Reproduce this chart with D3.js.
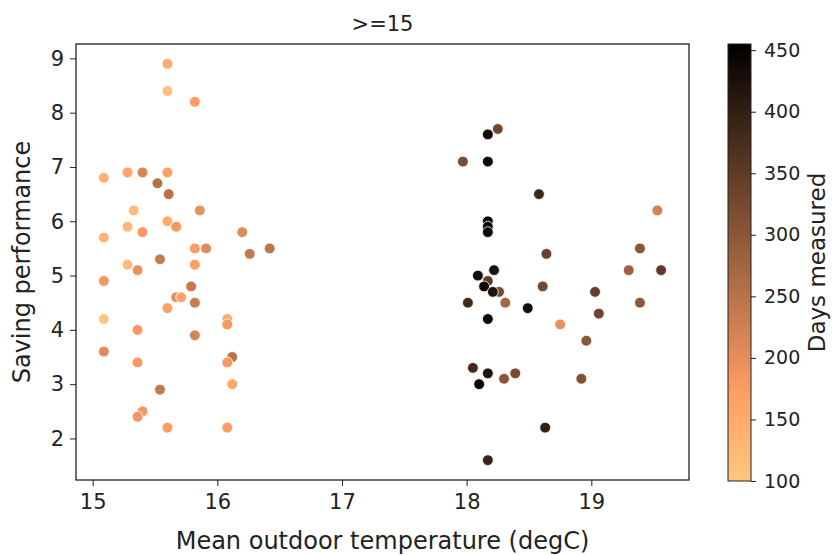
<!DOCTYPE html>
<html>
<head>
<meta charset="utf-8">
<script src="https://cdn.jsdelivr.net/npm/d3@7"></script>
<style>
  body { margin: 0; background: #fff; }
  svg text { font-family: "DejaVu Sans", sans-serif; fill: #222; }
</style>
</head>
<body>
<svg id="chart" width="832" height="555"></svg>
<script>
// Mean outdoor temperature (degC)
const temps = [
  15.60, 15.60, 15.82, 15.09, 15.28, 15.40, 15.60, 15.52, 15.61, 15.33,
  15.86, 15.60, 15.67, 15.28, 15.40, 15.09, 16.20, 15.82, 15.91, 16.42,
  16.26, 15.54, 15.82, 15.28, 15.36, 15.09, 15.79, 15.67, 15.71, 15.82,
  15.60, 15.09, 16.08, 16.08, 15.36, 15.82, 15.09, 16.12, 16.08, 15.36,
  16.12, 15.54, 15.40, 15.36, 15.60, 16.08,
  18.25, 18.17, 17.97, 18.17, 18.58, 18.17, 18.17, 18.17, 18.64, 18.22,
  18.09, 18.17, 18.14, 18.61, 19.03, 18.26, 18.21, 18.01, 18.31, 19.39,
  18.49, 19.06, 18.17, 18.75, 18.96, 18.05, 18.17, 18.39, 18.30, 18.92,
  18.10, 18.63, 18.17, 19.53, 19.39, 19.30, 19.56
];

// Saving performance
const savings = [
  8.9, 8.4, 8.2, 6.8, 6.9, 6.9, 6.9, 6.7, 6.5, 6.2,
  6.2, 6.0, 5.9, 5.9, 5.8, 5.7, 5.8, 5.5, 5.5, 5.5,
  5.4, 5.3, 5.2, 5.2, 5.1, 4.9, 4.8, 4.6, 4.6, 4.5,
  4.4, 4.2, 4.2, 4.1, 4.0, 3.9, 3.6, 3.5, 3.4, 3.4,
  3.0, 2.9, 2.5, 2.4, 2.2, 2.2,
  7.7, 7.6, 7.1, 7.1, 6.5, 6.0, 5.9, 5.8, 5.4, 5.1,
  5.0, 4.9, 4.8, 4.8, 4.7, 4.7, 4.7, 4.5, 4.5, 4.5,
  4.4, 4.3, 4.2, 4.1, 3.8, 3.3, 3.2, 3.2, 3.1, 3.1,
  3.0, 2.2, 1.6, 6.2, 5.5, 5.1, 5.1
];

// Days measured (colour)
const days = [
  150, 115, 175, 140, 165, 215, 170, 250, 250, 120,
  195, 145, 185, 125, 180, 135, 205, 175, 205, 245,
  240, 235, 170, 120, 195, 185, 235, 200, 165, 230,
  170, 100, 150, 185, 180, 220, 205, 250, 180, 180,
  160, 240, 185, 185, 175, 175,
  330, 440, 320, 445, 385, 440, 445, 440, 340, 420,
  430, 350, 440, 325, 345, 320, 420, 380, 270, 300,
  430, 335, 440, 195, 300, 380, 420, 320, 300, 310,
  455, 400, 390, 220, 300, 280, 350
];

const xTicks = [15, 16, 17, 18, 19];
const yTicks = [2, 3, 4, 5, 6, 7, 8, 9];
const cbTicks = [100, 150, 200, 250, 300, 350, 400, 450];

const points = temps.map((t, i) => ({ t, s: savings[i], d: days[i] }));

const plot = { left: 76, right: 689, top: 44, bottom: 480 };
const cb = { left: 728, right: 751, top: 44, bottom: 481 };

// matplotlib style 5% margins
const pad = ([a, b]) => [a - (b - a) * 0.05, b + (b - a) * 0.05];

const x = d3.scaleLinear().domain(pad(d3.extent(temps))).range([plot.left, plot.right]);
const y = d3.scaleLinear().domain(pad(d3.extent(savings))).range([plot.bottom, plot.top]);

// copper_r colormap
const copperR = t => {
  const u = 1 - t;
  const r = Math.min(1, 1.25 * u), g = 0.7812 * u, b = 0.4975 * u;
  return d3.rgb(r * 255, g * 255, b * 255).formatHex();
};
const dayExtent = d3.extent(days);
const color = d3.scaleSequential(copperR).domain(dayExtent);

const svg = d3.select('#chart');

// points
svg.append('g')
  .selectAll('circle')
  .data(points)
  .join('circle')
  .attr('cx', d => x(d.t))
  .attr('cy', d => y(d.s))
  .attr('r', 5.4)
  .attr('fill', d => color(d.d))
  .attr('stroke', '#fff')
  .attr('stroke-width', 0.8);

// axes
const xAxis = svg.append('g')
  .attr('transform', `translate(0,${plot.bottom})`)
  .call(d3.axisBottom(x).tickValues(xTicks).tickSize(6).tickPadding(8).tickFormat(d3.format('d')));
xAxis.select('.domain').remove();
xAxis.selectAll('line').attr('stroke', '#222').attr('stroke-width', 1);
xAxis.selectAll('text').style('font-size', '21px').attr('fill', '#222');

const yAxis = svg.append('g')
  .attr('transform', `translate(${plot.left},0)`)
  .call(d3.axisLeft(y).tickValues(yTicks).tickSize(6).tickPadding(6).tickFormat(d3.format('d')));
yAxis.select('.domain').remove();
yAxis.selectAll('line').attr('stroke', '#222').attr('stroke-width', 1);
yAxis.selectAll('text').style('font-size', '21px').attr('fill', '#222');

// frame
svg.append('rect')
  .attr('x', plot.left).attr('y', plot.top)
  .attr('width', plot.right - plot.left).attr('height', plot.bottom - plot.top)
  .attr('fill', 'none').attr('stroke', '#222').attr('stroke-width', 1.3);

// titles
svg.append('text')
  .attr('x', (plot.left + plot.right) / 2).attr('y', 31)
  .attr('text-anchor', 'middle').style('font-size', '21px')
  .text('>=15');

svg.append('text')
  .attr('x', (plot.left + plot.right) / 2).attr('y', 549)
  .attr('text-anchor', 'middle').style('font-size', '24px')
  .text('Mean outdoor temperature (degC)');

svg.append('text')
  .attr('transform', `translate(30,${(plot.top + plot.bottom) / 2}) rotate(-90)`)
  .attr('text-anchor', 'middle').style('font-size', '24px')
  .text('Saving performance');

// colorbar
const cbScale = d3.scaleLinear().domain(dayExtent).range([cb.bottom, cb.top]);
const grad = svg.append('defs').append('linearGradient')
  .attr('id', 'cb-grad')
  .attr('x1', '0%').attr('y1', '100%')
  .attr('x2', '0%').attr('y2', '0%');
d3.range(0, 1.0001, 0.05).forEach(o => {
  grad.append('stop')
    .attr('offset', `${o * 100}%`)
    .attr('stop-color', copperR(o));
});

svg.append('rect')
  .attr('x', cb.left).attr('y', cb.top)
  .attr('width', cb.right - cb.left).attr('height', cb.bottom - cb.top)
  .attr('fill', 'url(#cb-grad)')
  .attr('stroke', '#222').attr('stroke-width', 1);

const cbAxis = svg.append('g')
  .attr('transform', `translate(${cb.right},0)`)
  .call(d3.axisRight(cbScale).tickValues(cbTicks).tickSize(5).tickPadding(8).tickFormat(d3.format('d')));
cbAxis.select('.domain').remove();
cbAxis.selectAll('line').attr('stroke', '#222');
cbAxis.selectAll('text').style('font-size', '19px').attr('fill', '#222');

svg.append('text')
  .attr('transform', `translate(825,${(cb.top + cb.bottom) / 2}) rotate(-90)`)
  .attr('text-anchor', 'middle').style('font-size', '23px')
  .text('Days measured');
</script>
</body>
</html>
